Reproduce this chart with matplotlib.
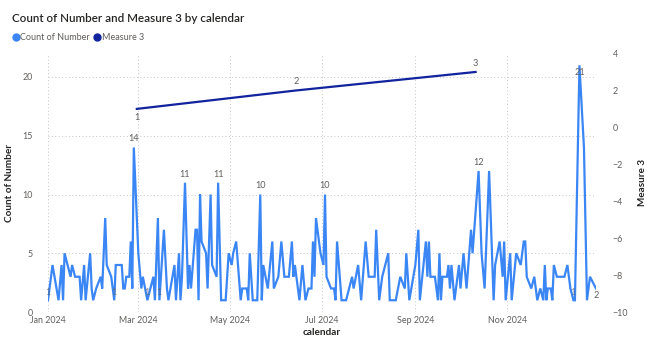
import matplotlib
matplotlib.use("Agg")
import matplotlib.pyplot as plt
import matplotlib.dates as mdates
from matplotlib.lines import Line2D
import numpy as np

plt.rcParams["font.family"] = ["Lato", "DejaVu Sans"]

start = np.datetime64("2024-01-01")

# days since 1 Jan 2024 and the daily count
count_days = [0, 3, 7, 9, 10, 11, 15, 16, 18, 21, 22, 24, 25, 28, 29, 30, 32, 35, 36, 38, 39, 42, 44, 45,
              49, 50, 51, 52, 54, 55, 56, 57,
              60, 62, 63, 66, 70, 71, 73, 74, 77, 79, 80, 84, 85, 87, 88, 89, 91, 93, 94, 95, 98, 99,
              100, 101, 102, 105, 106, 108, 109, 112, 113, 115, 118, 120, 122,
              123, 125, 128, 129, 132, 133, 134, 136, 139, 141, 142, 143, 146, 149, 150, 153, 155, 157,
              159, 160, 162, 163, 164, 167, 169, 171, 173, 175, 176, 177, 178, 180, 181, 183, 184,
              185, 188, 190, 191, 192, 195, 198, 202, 203, 206, 208, 211, 213, 217, 218, 220, 222, 226,
              227, 231, 234, 237, 238, 240, 244,
              246, 247, 251, 252, 253, 254, 257, 259, 260, 261, 262, 265, 266, 267, 268, 270, 273, 274,
              276, 278, 281, 282, 286, 288, 290, 293, 296, 297, 300, 302, 303, 304,
              307, 308, 311, 314, 316, 317, 318, 321, 323, 325, 327, 329, 330, 331, 332, 334, 335, 336,
              338, 343, 345, 347, 349, 350, 353, 356, 358, 360, 364]
count_vals = [1, 4, 1, 4, 1, 5, 3, 4, 3, 3, 1, 4, 1, 5, 2, 1, 2, 3, 2, 8, 4, 3, 1, 4,
              4, 2, 2, 3, 3, 6, 2, 14,
              5, 2, 3, 1, 3, 1, 8, 1, 7, 2, 1, 4, 1, 5, 1, 3, 11, 2, 4, 2, 7, 7,
              1, 10, 6, 5, 2, 10, 4, 3, 11, 1, 1, 5, 4,
              5, 6, 1, 2, 2, 1, 5, 1, 1, 10, 1, 4, 2, 6, 2, 3, 6, 3,
              3, 3, 6, 3, 4, 1, 4, 1, 2, 2, 6, 3, 8, 6, 5, 4, 10,
              3, 2, 2, 1, 6, 1, 1, 3, 2, 4, 1, 6, 3, 3, 7, 1, 3, 5,
              1, 1, 3, 2, 5, 1, 4,
              7, 1, 6, 3, 6, 3, 3, 1, 5, 1, 3, 3, 4, 2, 4, 1, 4, 2,
              5, 2, 7, 5, 12, 5, 2, 12, 1, 4, 6, 3, 6, 1,
              5, 1, 5, 4, 6, 6, 3, 2, 3, 1, 2, 1, 4, 1, 2, 2, 1, 4,
              3, 3, 4, 2, 1, 1, 21, 14, 1, 3, 2]

measure_days = [59, 165, 284]
measure_vals = [1, 2, 3]

# points that carry a data label in the original
above_label_days = [57, 91, 113, 141, 184, 286]
below_label_days = [353, 364]
minor_label_days = [0, 44, 66, 74, 349]

count_dates = start + np.array(count_days, dtype="timedelta64[D]")
measure_dates = start + np.array(measure_days, dtype="timedelta64[D]")
count_map = dict(zip(count_days, count_vals))

c_count = "#3A86F5"
c_meas = "#12239E"
c_tick = "#605E5C"
c_lab = "#252423"

fig = plt.figure(figsize=(6.47, 3.5), dpi=100)
ax = fig.add_axes([48 / 647, 1 - 312 / 350, 548 / 647, 258.5 / 350])
ax2 = ax.twinx()

ax.plot(count_dates, count_vals, color=c_count, lw=1.6, solid_joinstyle="miter")
ax2.plot(measure_dates, measure_vals, color=c_meas, lw=1.6)

ax.set_ylim(0, 22)
ax2.set_ylim(-10, 4)
ax.set_xlim(start, start + np.timedelta64(364, "D"))

ax.set_yticks([0, 5, 10, 15, 20])
ax2.set_yticks(np.arange(-10, 5, 2))
ax.xaxis.set_major_locator(mdates.MonthLocator(bymonth=[1, 3, 5, 7, 9, 11]))
ax.xaxis.set_major_formatter(mdates.DateFormatter("%b %Y"))

for a in (ax, ax2):
    for s in a.spines.values():
        s.set_visible(False)
    a.tick_params(length=0, labelsize=6.4, labelcolor=c_tick)
ax.tick_params(axis="y", pad=11)
ax.tick_params(axis="x", pad=3)
ax2.tick_params(axis="y", pad=12)

ax.grid(True, color="#C8C6C4", lw=0.7, ls=(0, (1, 2.5)))
ax.set_axisbelow(True)

ax.set_xlabel("calendar", fontsize=7.2, color=c_lab, fontweight="bold", labelpad=2)
ax.set_ylabel("Count of Number", fontsize=7.2, color=c_lab, fontweight="bold", labelpad=6)
ax2.set_ylabel("Measure 3", fontsize=7.2, color=c_lab, fontweight="bold", labelpad=7)

lab_kw = dict(textcoords="offset points", ha="center", fontsize=6.6, color=c_tick)
for d in above_label_days:
    ax.annotate(str(count_map[d]), (start + np.timedelta64(d, "D"), count_map[d]),
                xytext=(0, 3), va="bottom", **lab_kw)
for d in below_label_days:
    ax.annotate(str(count_map[d]), (start + np.timedelta64(d, "D"), count_map[d]),
                xytext=(0, -2), va="top", **lab_kw)
for d in minor_label_days:
    ax.annotate(str(count_map[d]), (start + np.timedelta64(d, "D"), count_map[d]),
                xytext=(0, 2), va="bottom", alpha=0.7, **lab_kw)

ax2.annotate(str(measure_vals[0]), (measure_dates[0], measure_vals[0]),
             xytext=(0, -3), va="top", **lab_kw)
for d, v in zip(measure_dates[1:], measure_vals[1:]):
    ax2.annotate(str(v), (d, v), xytext=(0, 3), va="bottom", **lab_kw)

fig.text(12 / 647, 1 - 18 / 350, "Count of Number and Measure 3 by calendar",
         fontsize=8.4, color=c_lab, va="center", ha="left", fontweight="semibold")

handles = [Line2D([], [], ls="", marker="o", ms=5, color=c_count),
           Line2D([], [], ls="", marker="o", ms=5, color=c_meas)]
fig.legend(handles, ["Count of Number", "Measure 3"], loc="center left",
           bbox_to_anchor=(8 / 647, 1 - 38 / 350), ncol=2, frameon=False,
           fontsize=6.5, labelcolor=c_tick, handletextpad=0.15, columnspacing=0.5,
           handlelength=0.7, borderpad=0)

fig.savefig("out.png", dpi=100)
